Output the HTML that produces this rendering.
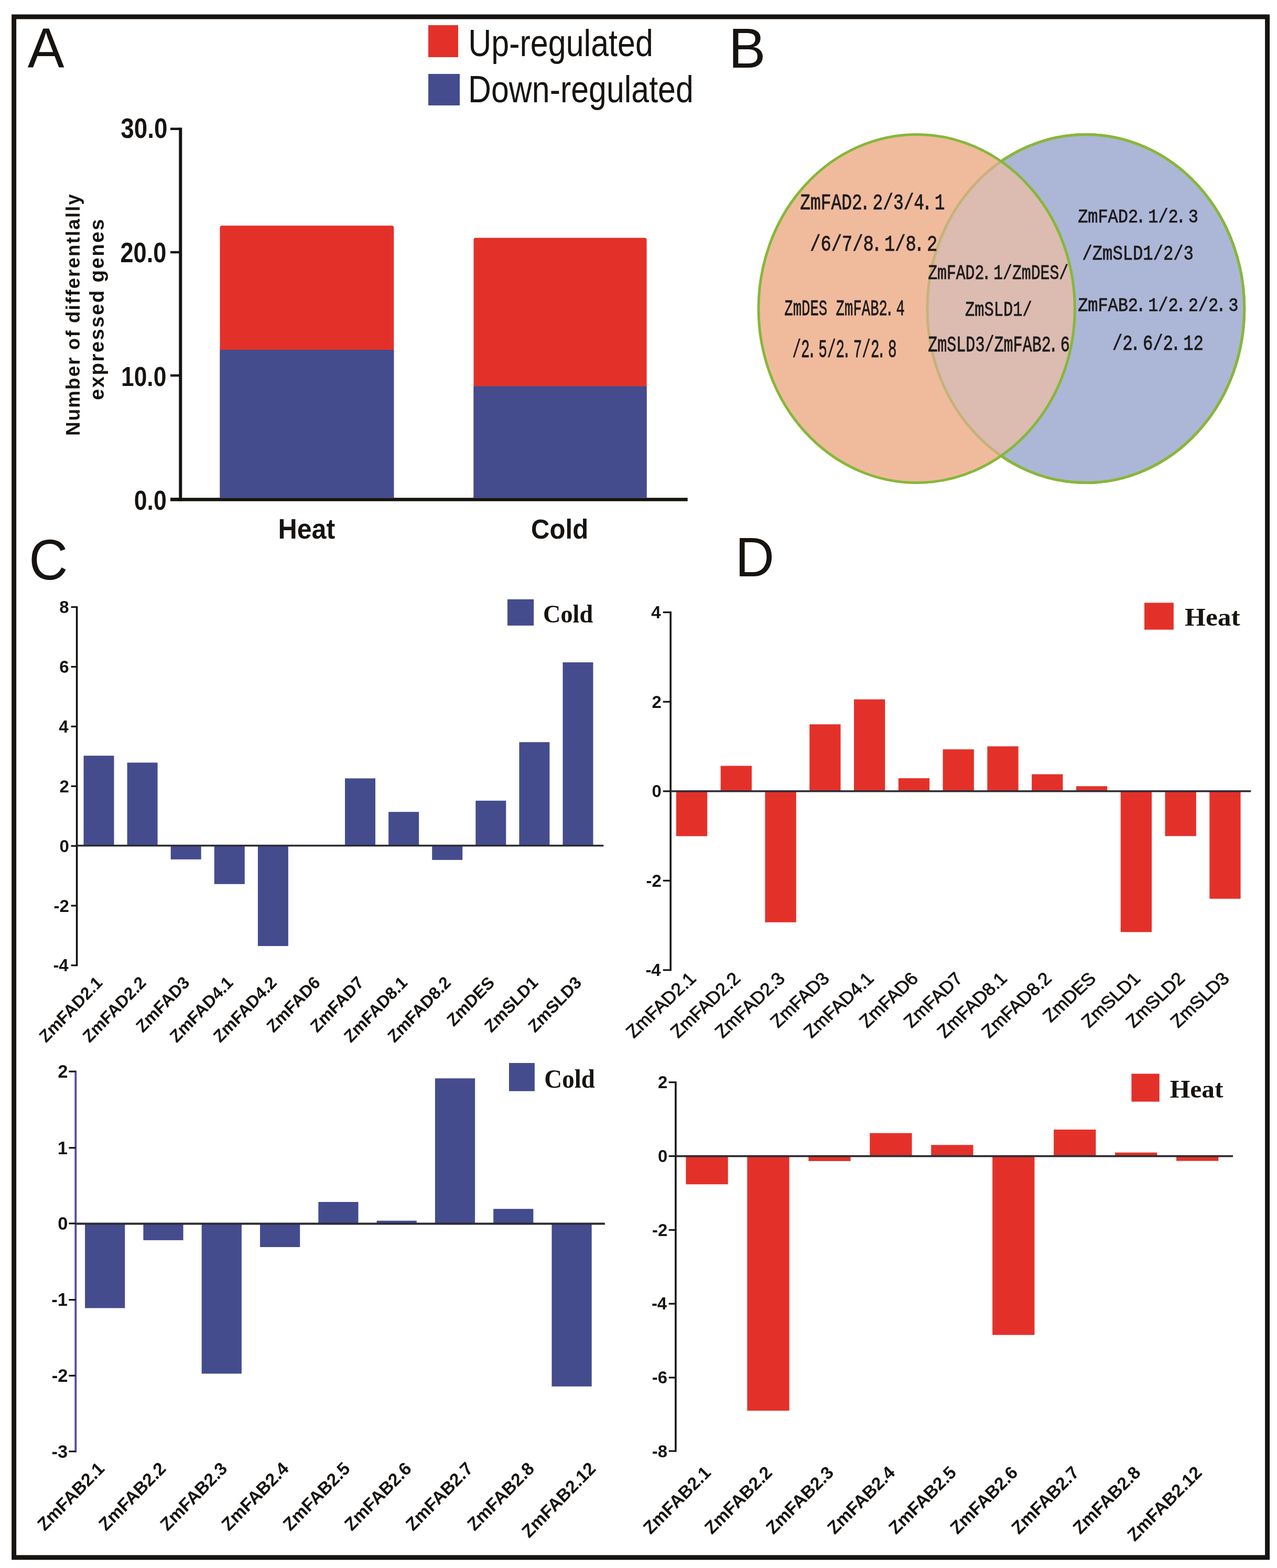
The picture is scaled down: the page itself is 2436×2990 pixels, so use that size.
<!DOCTYPE html><html><head><meta charset="utf-8"><title>Figure</title><style>html,body{margin:0;padding:0;background:#fff;}svg{display:block;}</style></head><body>
<svg width="2436" height="2990" viewBox="0 0 2436 2990">
<rect x="0" y="0" width="2436" height="2990" fill="#fff"/>
<rect x="26.6" y="32" width="2391.0" height="2937.9" fill="none" stroke="#161310" stroke-width="9"/>
<text transform="translate(52.74,128.70) scale(0.9732,1)" font-family="'Liberation Sans', Arial, sans-serif" font-weight="normal" font-size="107.64" fill="#161310">A</text>
<text transform="translate(1389.65,128.50) scale(0.9938,1)" font-family="'Liberation Sans', Arial, sans-serif" font-weight="normal" font-size="106.76" fill="#161310">B</text>
<text transform="translate(55.17,1104.70) scale(0.9347,1)" font-family="'Liberation Sans', Arial, sans-serif" font-weight="normal" font-size="109.68" fill="#161310">C</text>
<text transform="translate(1402.48,1099.00) scale(0.9701,1)" font-family="'Liberation Sans', Arial, sans-serif" font-weight="normal" font-size="106.47" fill="#161310">D</text>
<rect x="817.00" y="48.00" width="57.00" height="61.00" fill="#E3312A"/>
<rect x="817.00" y="141.00" width="60.00" height="60.00" fill="#444C8E"/>
<text transform="translate(893.27,107.00) scale(0.8407,1)" font-family="'Liberation Sans', Arial, sans-serif" font-weight="normal" font-size="72.55" fill="#161310">Up-regulated</text>
<text transform="translate(892.98,195.00) scale(0.8491,1)" font-family="'Liberation Sans', Arial, sans-serif" font-weight="normal" font-size="71.72" fill="#161310">Down-regulated</text>
<path d="M419.5,949 L419.5,434 Q419.5,430.2 423.5,430.2 L747.3,430.2 Q751.3,430.2 751.3,434 L751.3,949 Z" fill="#E3312A"/>
<rect x="419.50" y="667.00" width="331.80" height="282.00" fill="#444C8E"/>
<path d="M903.5,949 L903.5,457.6 Q903.5,453.6 907.5,453.6 L1229.6,453.6 Q1233.6,453.6 1233.6,457.6 L1233.6,949 Z" fill="#E3312A"/>
<rect x="903.50" y="736.50" width="330.10" height="212.50" fill="#444C8E"/>
<line x1="344.30" y1="243.50" x2="344.30" y2="955.50" stroke="#161310" stroke-width="6" stroke-linecap="butt"/>
<line x1="325.00" y1="245.75" x2="344.00" y2="245.75" stroke="#161310" stroke-width="4.5" stroke-linecap="butt"/>
<line x1="325.00" y1="481.00" x2="344.00" y2="481.00" stroke="#161310" stroke-width="4.5" stroke-linecap="butt"/>
<line x1="325.00" y1="716.00" x2="344.00" y2="716.00" stroke="#161310" stroke-width="4.5" stroke-linecap="butt"/>
<line x1="325.00" y1="951.50" x2="344.00" y2="951.50" stroke="#161310" stroke-width="4.5" stroke-linecap="butt"/>
<line x1="325.00" y1="952.50" x2="1311.70" y2="952.50" stroke="#161310" stroke-width="6.5" stroke-linecap="butt"/>
<text transform="translate(230.22,263.00) scale(0.8637,1)" font-family="'Liberation Sans', Arial, sans-serif" font-weight="bold" font-size="53.05" fill="#161310">30.0</text>
<text transform="translate(229.42,499.50) scale(0.8518,1)" font-family="'Liberation Sans', Arial, sans-serif" font-weight="bold" font-size="53.05" fill="#161310">20.0</text>
<text transform="translate(230.98,735.50) scale(0.8421,1)" font-family="'Liberation Sans', Arial, sans-serif" font-weight="bold" font-size="52.69" fill="#161310">10.0</text>
<text transform="translate(255.71,972.00) scale(0.8652,1)" font-family="'Liberation Sans', Arial, sans-serif" font-weight="bold" font-size="51.61" fill="#161310">0.0</text>
<text transform="translate(530.41,1026.80) scale(0.9253,1)" font-family="'Liberation Sans', Arial, sans-serif" font-weight="bold" font-size="54.25" fill="#161310">Heat</text>
<text transform="translate(1013.03,1026.80) scale(0.9558,1)" font-family="'Liberation Sans', Arial, sans-serif" font-weight="bold" font-size="51.45" fill="#161310">Cold</text>
<text transform="translate(151.60,831.00) rotate(-90) scale(1.0,1)" text-anchor="start" font-family="'Liberation Sans', Arial, sans-serif" font-weight="bold" font-size="36.90" fill="#161310" letter-spacing="2.03">Number of differentlally</text>
<text transform="translate(198.00,763.00) rotate(-90) scale(1.0,1)" text-anchor="start" font-family="'Liberation Sans', Arial, sans-serif" font-weight="bold" font-size="38.50" fill="#161310" letter-spacing="2.34">expressed genes</text>
<defs><clipPath id="clipR"><ellipse cx="2071.2" cy="588.5" rx="302.4" ry="332.0"/></clipPath></defs>
<ellipse cx="2071.25" cy="588.5" rx="302.45" ry="332" fill="#ACB6D7" stroke="#87B73A" stroke-width="5"/>
<ellipse cx="1748.65" cy="588.5" rx="301.65" ry="332" fill="#F0BB9C"/>
<ellipse cx="1748.65" cy="588.5" rx="301.65" ry="332" fill="#DCBBB1" clip-path="url(#clipR)"/>
<ellipse cx="2071.25" cy="588.5" rx="302.45" ry="332" fill="none" stroke="#C6B278" stroke-width="5"/>
<ellipse cx="1748.65" cy="588.5" rx="301.65" ry="332" fill="none" stroke="#87B73A" stroke-width="5"/>
<defs><mask id="outL"><rect x="1300" y="200" width="1136" height="800" fill="#fff"/><ellipse cx="1748.7" cy="588.5" rx="301.6" ry="332.0" fill="#000"/></mask></defs>
<ellipse cx="2071.25" cy="588.5" rx="302.45" ry="332" fill="none" stroke="#87B73A" stroke-width="5" mask="url(#outL)"/>
<text transform="translate(1526.35,399.30) scale(0.7814,1)" font-family="'Liberation Mono', 'WenQuanYi Zen Hei Mono', monospace" font-weight="normal" font-size="42.07" fill="#1c1a1a" stroke="#1c1a1a" stroke-width="0.8">ZmFAD2<tspan dx="-5.76">.</tspan><tspan dx="5.76">2</tspan>/3/4<tspan dx="-5.76">.</tspan><tspan dx="5.76">1</tspan></text>
<text transform="translate(1545.14,478.00) scale(0.8080,1)" font-family="'Liberation Mono', 'WenQuanYi Zen Hei Mono', monospace" font-weight="normal" font-size="41.79" fill="#1c1a1a" stroke="#1c1a1a" stroke-width="0.8">/6/7/8<tspan dx="-5.57">.</tspan><tspan dx="5.57">1</tspan>/8<tspan dx="-5.57">.</tspan><tspan dx="5.57">2</tspan></text>
<text transform="translate(1496.24,601.30) scale(0.6314,1)" font-family="'Liberation Mono', 'WenQuanYi Zen Hei Mono', monospace" font-weight="normal" font-size="43.28" fill="#1c1a1a" stroke="#1c1a1a" stroke-width="0.8">ZmDES ZmFAB2<tspan dx="-7.13">.</tspan><tspan dx="7.13">4</tspan></text>
<text transform="translate(1511.48,681.30) scale(0.5831,1)" font-family="'Liberation Mono', 'WenQuanYi Zen Hei Mono', monospace" font-weight="normal" font-size="47.46" fill="#1c1a1a" stroke="#1c1a1a" stroke-width="0.8">/2<tspan dx="-7.72">.</tspan><tspan dx="7.72">5</tspan>/2<tspan dx="-7.72">.</tspan><tspan dx="7.72">7</tspan>/2<tspan dx="-7.72">.</tspan><tspan dx="7.72">8</tspan></text>
<text transform="translate(1770.16,532.30) scale(0.7677,1)" font-family="'Liberation Mono', 'WenQuanYi Zen Hei Mono', monospace" font-weight="normal" font-size="38.78" fill="#1c1a1a" stroke="#1c1a1a" stroke-width="0.8">ZmFAD2<tspan dx="-5.86">.</tspan><tspan dx="5.86">1</tspan>/ZmDES/</text>
<text transform="translate(1840.93,602.00) scale(0.7847,1)" font-family="'Liberation Mono', 'WenQuanYi Zen Hei Mono', monospace" font-weight="normal" font-size="38.78" fill="#1c1a1a" stroke="#1c1a1a" stroke-width="0.8">ZmSLD1/</text>
<text transform="translate(1770.15,670.30) scale(0.7192,1)" font-family="'Liberation Mono', 'WenQuanYi Zen Hei Mono', monospace" font-weight="normal" font-size="41.83" fill="#1c1a1a" stroke="#1c1a1a" stroke-width="0.8">ZmSLD3/ZmFAB2<tspan dx="-6.26">.</tspan><tspan dx="6.26">6</tspan></text>
<text transform="translate(2056.18,423.70) scale(0.8443,1)" font-family="'Liberation Mono', 'WenQuanYi Zen Hei Mono', monospace" font-weight="normal" font-size="37.79" fill="#1c1a1a" stroke="#1c1a1a" stroke-width="0.8">ZmFAD2<tspan dx="-5.33">.</tspan><tspan dx="5.33">1</tspan>/2<tspan dx="-5.33">.</tspan><tspan dx="5.33">3</tspan></text>
<text transform="translate(2064.43,495.30) scale(0.8209,1)" font-family="'Liberation Mono', 'WenQuanYi Zen Hei Mono', monospace" font-weight="normal" font-size="39.24" fill="#1c1a1a" stroke="#1c1a1a" stroke-width="0.8">/ZmSLD1/2/3</text>
<text transform="translate(2056.18,593.30) scale(0.8629,1)" font-family="'Liberation Mono', 'WenQuanYi Zen Hei Mono', monospace" font-weight="normal" font-size="36.97" fill="#1c1a1a" stroke="#1c1a1a" stroke-width="0.8">ZmFAB2<tspan dx="-5.21">.</tspan><tspan dx="5.21">1</tspan>/2<tspan dx="-5.21">.</tspan><tspan dx="5.21">2</tspan>/2<tspan dx="-5.21">.</tspan><tspan dx="5.21">3</tspan></text>
<text transform="translate(2121.93,667.00) scale(0.7900,1)" font-family="'Liberation Mono', 'WenQuanYi Zen Hei Mono', monospace" font-weight="normal" font-size="40.75" fill="#1c1a1a" stroke="#1c1a1a" stroke-width="0.8">/2<tspan dx="-5.70">.</tspan><tspan dx="5.70">6</tspan>/2<tspan dx="-5.70">.</tspan><tspan dx="5.70">1</tspan>2</text>
<rect x="159.50" y="1441.00" width="58.00" height="171.50" fill="#444C8E"/>
<rect x="242.59" y="1454.20" width="58.00" height="158.30" fill="#444C8E"/>
<rect x="325.68" y="1612.50" width="58.00" height="26.30" fill="#444C8E"/>
<rect x="408.77" y="1612.50" width="58.00" height="73.30" fill="#444C8E"/>
<rect x="491.86" y="1612.50" width="58.00" height="191.50" fill="#444C8E"/>
<rect x="574.95" y="1611.00" width="58.00" height="1.50" fill="#444C8E"/>
<rect x="658.04" y="1484.30" width="58.00" height="128.20" fill="#444C8E"/>
<rect x="741.13" y="1548.20" width="58.00" height="64.30" fill="#444C8E"/>
<rect x="824.22" y="1612.50" width="58.00" height="27.30" fill="#444C8E"/>
<rect x="907.31" y="1526.80" width="58.00" height="85.70" fill="#444C8E"/>
<rect x="990.40" y="1415.20" width="58.00" height="197.30" fill="#444C8E"/>
<rect x="1073.49" y="1263.00" width="58.00" height="349.50" fill="#444C8E"/>
<line x1="146.60" y1="1156.10" x2="146.60" y2="1842.30" stroke="#161310" stroke-width="3.6" stroke-linecap="butt"/>
<line x1="135.50" y1="1157.60" x2="146.60" y2="1157.60" stroke="#161310" stroke-width="3.2" stroke-linecap="butt"/>
<text x="113.17" y="1169.11" font-family="'Liberation Sans', Arial, sans-serif" font-weight="bold" font-size="33" fill="#161310">8</text>
<line x1="135.50" y1="1271.50" x2="146.60" y2="1271.50" stroke="#161310" stroke-width="3.2" stroke-linecap="butt"/>
<text x="113.34" y="1283.01" font-family="'Liberation Sans', Arial, sans-serif" font-weight="bold" font-size="33" fill="#161310">6</text>
<line x1="135.50" y1="1385.30" x2="146.60" y2="1385.30" stroke="#161310" stroke-width="3.2" stroke-linecap="butt"/>
<text x="112.35" y="1396.64" font-family="'Liberation Sans', Arial, sans-serif" font-weight="bold" font-size="33" fill="#161310">4</text>
<line x1="135.50" y1="1499.20" x2="146.60" y2="1499.20" stroke="#161310" stroke-width="3.2" stroke-linecap="butt"/>
<text x="113.42" y="1510.71" font-family="'Liberation Sans', Arial, sans-serif" font-weight="bold" font-size="33" fill="#161310">2</text>
<line x1="135.50" y1="1613.10" x2="146.60" y2="1613.10" stroke="#161310" stroke-width="3.2" stroke-linecap="butt"/>
<text x="113.50" y="1624.61" font-family="'Liberation Sans', Arial, sans-serif" font-weight="bold" font-size="33" fill="#161310">0</text>
<line x1="135.50" y1="1727.00" x2="146.60" y2="1727.00" stroke="#161310" stroke-width="3.2" stroke-linecap="butt"/>
<text x="102.45" y="1738.51" font-family="'Liberation Sans', Arial, sans-serif" font-weight="bold" font-size="33" fill="#161310">-2</text>
<line x1="135.50" y1="1840.80" x2="146.60" y2="1840.80" stroke="#161310" stroke-width="3.2" stroke-linecap="butt"/>
<text x="101.38" y="1852.14" font-family="'Liberation Sans', Arial, sans-serif" font-weight="bold" font-size="33" fill="#161310">-4</text>
<line x1="146.60" y1="1612.50" x2="1151.30" y2="1612.50" stroke="#2b2b33" stroke-width="3.6" stroke-linecap="butt"/>
<text transform="translate(197.28,1875.86) scale(0.9609,1) rotate(-45)" text-anchor="end" font-family="'Liberation Sans', Arial, sans-serif" font-size="32.98" fill="#161310" font-weight="bold">ZmFAD2.1</text>
<text transform="translate(280.37,1875.86) scale(0.9609,1) rotate(-45)" text-anchor="end" font-family="'Liberation Sans', Arial, sans-serif" font-size="32.98" fill="#161310" font-weight="bold">ZmFAD2.2</text>
<text transform="translate(363.46,1875.86) scale(0.9609,1) rotate(-45)" text-anchor="end" font-family="'Liberation Sans', Arial, sans-serif" font-size="32.98" fill="#161310" font-weight="bold">ZmFAD3</text>
<text transform="translate(446.55,1875.86) scale(0.9609,1) rotate(-45)" text-anchor="end" font-family="'Liberation Sans', Arial, sans-serif" font-size="32.98" fill="#161310" font-weight="bold">ZmFAD4.1</text>
<text transform="translate(529.64,1875.86) scale(0.9609,1) rotate(-45)" text-anchor="end" font-family="'Liberation Sans', Arial, sans-serif" font-size="32.98" fill="#161310" font-weight="bold">ZmFAD4.2</text>
<text transform="translate(612.73,1875.86) scale(0.9609,1) rotate(-45)" text-anchor="end" font-family="'Liberation Sans', Arial, sans-serif" font-size="32.98" fill="#161310" font-weight="bold">ZmFAD6</text>
<text transform="translate(695.82,1875.86) scale(0.9609,1) rotate(-45)" text-anchor="end" font-family="'Liberation Sans', Arial, sans-serif" font-size="32.98" fill="#161310" font-weight="bold">ZmFAD7</text>
<text transform="translate(778.91,1875.86) scale(0.9609,1) rotate(-45)" text-anchor="end" font-family="'Liberation Sans', Arial, sans-serif" font-size="32.98" fill="#161310" font-weight="bold">ZmFAD8.1</text>
<text transform="translate(862.00,1875.86) scale(0.9609,1) rotate(-45)" text-anchor="end" font-family="'Liberation Sans', Arial, sans-serif" font-size="32.98" fill="#161310" font-weight="bold">ZmFAD8.2</text>
<text transform="translate(945.09,1875.86) scale(0.9609,1) rotate(-45)" text-anchor="end" font-family="'Liberation Sans', Arial, sans-serif" font-size="32.98" fill="#161310" font-weight="bold">ZmDES</text>
<text transform="translate(1028.18,1875.86) scale(0.9609,1) rotate(-45)" text-anchor="end" font-family="'Liberation Sans', Arial, sans-serif" font-size="32.98" fill="#161310" font-weight="bold">ZmSLD1</text>
<text transform="translate(1111.27,1875.86) scale(0.9609,1) rotate(-45)" text-anchor="end" font-family="'Liberation Sans', Arial, sans-serif" font-size="32.98" fill="#161310" font-weight="bold">ZmSLD3</text>
<rect x="968.00" y="1142.80" width="50.20" height="50.10" fill="#444C8E"/>
<text transform="translate(1036.11,1187.00) scale(0.9586,1)" font-family="'Liberation Serif', 'Times New Roman', serif" font-weight="bold" font-size="48.20" fill="#161310">Cold</text>
<rect x="162.10" y="2333.60" width="76.20" height="160.80" fill="#444C8E"/>
<rect x="273.40" y="2333.60" width="76.20" height="31.30" fill="#444C8E"/>
<rect x="384.70" y="2333.60" width="76.20" height="285.80" fill="#444C8E"/>
<rect x="496.00" y="2333.60" width="76.20" height="44.40" fill="#444C8E"/>
<rect x="607.30" y="2292.00" width="76.20" height="41.60" fill="#444C8E"/>
<rect x="718.60" y="2327.70" width="76.20" height="5.90" fill="#444C8E"/>
<rect x="829.90" y="2056.30" width="76.20" height="277.30" fill="#444C8E"/>
<rect x="941.20" y="2305.20" width="76.20" height="28.40" fill="#444C8E"/>
<rect x="1052.50" y="2333.60" width="76.20" height="310.20" fill="#444C8E"/>
<line x1="144.30" y1="2041.50" x2="144.30" y2="2769.40" stroke="#5A50A0" stroke-width="4" stroke-linecap="butt"/>
<line x1="131.30" y1="2043.20" x2="144.30" y2="2043.20" stroke="#161310" stroke-width="3.2" stroke-linecap="butt"/>
<text x="110.15" y="2055.23" font-family="'Liberation Sans', Arial, sans-serif" font-weight="bold" font-size="34.5" fill="#161310">2</text>
<line x1="131.30" y1="2188.80" x2="144.30" y2="2188.80" stroke="#161310" stroke-width="3.2" stroke-linecap="butt"/>
<text x="109.80" y="2200.66" font-family="'Liberation Sans', Arial, sans-serif" font-weight="bold" font-size="34.5" fill="#161310">1</text>
<line x1="131.30" y1="2333.00" x2="144.30" y2="2333.00" stroke="#161310" stroke-width="3.2" stroke-linecap="butt"/>
<text x="110.23" y="2345.03" font-family="'Liberation Sans', Arial, sans-serif" font-weight="bold" font-size="34.5" fill="#161310">0</text>
<line x1="131.30" y1="2478.60" x2="144.30" y2="2478.60" stroke="#161310" stroke-width="3.2" stroke-linecap="butt"/>
<text x="98.33" y="2490.46" font-family="'Liberation Sans', Arial, sans-serif" font-weight="bold" font-size="34.5" fill="#161310">-1</text>
<line x1="131.30" y1="2623.20" x2="144.30" y2="2623.20" stroke="#161310" stroke-width="3.2" stroke-linecap="butt"/>
<text x="98.67" y="2635.23" font-family="'Liberation Sans', Arial, sans-serif" font-weight="bold" font-size="34.5" fill="#161310">-2</text>
<line x1="131.30" y1="2767.70" x2="144.30" y2="2767.70" stroke="#161310" stroke-width="3.2" stroke-linecap="butt"/>
<text x="98.59" y="2779.73" font-family="'Liberation Sans', Arial, sans-serif" font-weight="bold" font-size="34.5" fill="#161310">-3</text>
<line x1="144.30" y1="2333.60" x2="1153.90" y2="2333.60" stroke="#2b2b33" stroke-width="4" stroke-linecap="butt"/>
<text transform="translate(201.21,2802.67) scale(0.9830,1) rotate(-45)" text-anchor="end" font-family="'Liberation Sans', Arial, sans-serif" font-size="34.15" fill="#161310" font-weight="bold">ZmFAB2.1</text>
<text transform="translate(318.36,2802.67) scale(0.9830,1) rotate(-45)" text-anchor="end" font-family="'Liberation Sans', Arial, sans-serif" font-size="34.15" fill="#161310" font-weight="bold">ZmFAB2.2</text>
<text transform="translate(435.51,2802.67) scale(0.9830,1) rotate(-45)" text-anchor="end" font-family="'Liberation Sans', Arial, sans-serif" font-size="34.15" fill="#161310" font-weight="bold">ZmFAB2.3</text>
<text transform="translate(552.66,2802.67) scale(0.9830,1) rotate(-45)" text-anchor="end" font-family="'Liberation Sans', Arial, sans-serif" font-size="34.15" fill="#161310" font-weight="bold">ZmFAB2.4</text>
<text transform="translate(669.81,2802.67) scale(0.9830,1) rotate(-45)" text-anchor="end" font-family="'Liberation Sans', Arial, sans-serif" font-size="34.15" fill="#161310" font-weight="bold">ZmFAB2.5</text>
<text transform="translate(786.96,2802.67) scale(0.9830,1) rotate(-45)" text-anchor="end" font-family="'Liberation Sans', Arial, sans-serif" font-size="34.15" fill="#161310" font-weight="bold">ZmFAB2.6</text>
<text transform="translate(904.11,2802.67) scale(0.9830,1) rotate(-45)" text-anchor="end" font-family="'Liberation Sans', Arial, sans-serif" font-size="34.15" fill="#161310" font-weight="bold">ZmFAB2.7</text>
<text transform="translate(1021.26,2802.67) scale(0.9830,1) rotate(-45)" text-anchor="end" font-family="'Liberation Sans', Arial, sans-serif" font-size="34.15" fill="#161310" font-weight="bold">ZmFAB2.8</text>
<text transform="translate(1138.41,2802.67) scale(0.9830,1) rotate(-45)" text-anchor="end" font-family="'Liberation Sans', Arial, sans-serif" font-size="34.15" fill="#161310" font-weight="bold">ZmFAB2.12</text>
<rect x="971.00" y="2027.00" width="48.90" height="53.70" fill="#444C8E"/>
<text transform="translate(1038.27,2074.00) scale(0.9443,1)" font-family="'Liberation Serif', 'Times New Roman', serif" font-weight="bold" font-size="49.78" fill="#161310">Cold</text>
<rect x="1289.90" y="1508.80" width="59.30" height="85.70" fill="#E3312A"/>
<rect x="1374.68" y="1460.40" width="59.30" height="48.40" fill="#E3312A"/>
<rect x="1459.46" y="1508.80" width="59.30" height="249.90" fill="#E3312A"/>
<rect x="1544.24" y="1381.20" width="59.30" height="127.60" fill="#E3312A"/>
<rect x="1629.02" y="1333.60" width="59.30" height="175.20" fill="#E3312A"/>
<rect x="1713.80" y="1484.00" width="59.30" height="24.80" fill="#E3312A"/>
<rect x="1798.58" y="1428.90" width="59.30" height="79.90" fill="#E3312A"/>
<rect x="1883.36" y="1423.20" width="59.30" height="85.60" fill="#E3312A"/>
<rect x="1968.14" y="1476.40" width="59.30" height="32.40" fill="#E3312A"/>
<rect x="2052.92" y="1499.20" width="59.30" height="9.60" fill="#E3312A"/>
<rect x="2137.70" y="1508.80" width="59.30" height="268.60" fill="#E3312A"/>
<rect x="2222.48" y="1508.80" width="59.30" height="85.50" fill="#E3312A"/>
<rect x="2307.26" y="1508.80" width="59.30" height="205.00" fill="#E3312A"/>
<line x1="1279.20" y1="1166.10" x2="1279.20" y2="1851.30" stroke="#161310" stroke-width="3.6" stroke-linecap="butt"/>
<line x1="1264.70" y1="1167.60" x2="1279.20" y2="1167.60" stroke="#161310" stroke-width="3.2" stroke-linecap="butt"/>
<text x="1242.35" y="1178.94" font-family="'Liberation Sans', Arial, sans-serif" font-weight="bold" font-size="33" fill="#161310">4</text>
<line x1="1264.70" y1="1338.20" x2="1279.20" y2="1338.20" stroke="#161310" stroke-width="3.2" stroke-linecap="butt"/>
<text x="1243.42" y="1349.71" font-family="'Liberation Sans', Arial, sans-serif" font-weight="bold" font-size="33" fill="#161310">2</text>
<line x1="1264.70" y1="1508.80" x2="1279.20" y2="1508.80" stroke="#161310" stroke-width="3.2" stroke-linecap="butt"/>
<text x="1243.51" y="1520.31" font-family="'Liberation Sans', Arial, sans-serif" font-weight="bold" font-size="33" fill="#161310">0</text>
<line x1="1264.70" y1="1679.30" x2="1279.20" y2="1679.30" stroke="#161310" stroke-width="3.2" stroke-linecap="butt"/>
<text x="1232.45" y="1690.81" font-family="'Liberation Sans', Arial, sans-serif" font-weight="bold" font-size="33" fill="#161310">-2</text>
<line x1="1264.70" y1="1849.80" x2="1279.20" y2="1849.80" stroke="#161310" stroke-width="3.2" stroke-linecap="butt"/>
<text x="1231.38" y="1861.14" font-family="'Liberation Sans', Arial, sans-serif" font-weight="bold" font-size="33" fill="#161310">-4</text>
<line x1="1279.20" y1="1508.80" x2="2386.30" y2="1508.80" stroke="#2b2b33" stroke-width="3.6" stroke-linecap="butt"/>
<text transform="translate(1329.71,1868.03) scale(1.0704,1) rotate(-45)" text-anchor="end" font-family="'Liberation Sans', Arial, sans-serif" font-size="33.40" fill="#161310" stroke="#161310" stroke-width="0.9">ZmFAD2.1</text>
<text transform="translate(1414.49,1868.03) scale(1.0704,1) rotate(-45)" text-anchor="end" font-family="'Liberation Sans', Arial, sans-serif" font-size="33.40" fill="#161310" stroke="#161310" stroke-width="0.9">ZmFAD2.2</text>
<text transform="translate(1499.27,1868.03) scale(1.0704,1) rotate(-45)" text-anchor="end" font-family="'Liberation Sans', Arial, sans-serif" font-size="33.40" fill="#161310" stroke="#161310" stroke-width="0.9">ZmFAD2.3</text>
<text transform="translate(1584.05,1868.03) scale(1.0704,1) rotate(-45)" text-anchor="end" font-family="'Liberation Sans', Arial, sans-serif" font-size="33.40" fill="#161310" stroke="#161310" stroke-width="0.9">ZmFAD3</text>
<text transform="translate(1668.83,1868.03) scale(1.0704,1) rotate(-45)" text-anchor="end" font-family="'Liberation Sans', Arial, sans-serif" font-size="33.40" fill="#161310" stroke="#161310" stroke-width="0.9">ZmFAD4.1</text>
<text transform="translate(1753.61,1868.03) scale(1.0704,1) rotate(-45)" text-anchor="end" font-family="'Liberation Sans', Arial, sans-serif" font-size="33.40" fill="#161310" stroke="#161310" stroke-width="0.9">ZmFAD6</text>
<text transform="translate(1838.39,1868.03) scale(1.0704,1) rotate(-45)" text-anchor="end" font-family="'Liberation Sans', Arial, sans-serif" font-size="33.40" fill="#161310" stroke="#161310" stroke-width="0.9">ZmFAD7</text>
<text transform="translate(1923.17,1868.03) scale(1.0704,1) rotate(-45)" text-anchor="end" font-family="'Liberation Sans', Arial, sans-serif" font-size="33.40" fill="#161310" stroke="#161310" stroke-width="0.9">ZmFAD8.1</text>
<text transform="translate(2007.95,1868.03) scale(1.0704,1) rotate(-45)" text-anchor="end" font-family="'Liberation Sans', Arial, sans-serif" font-size="33.40" fill="#161310" stroke="#161310" stroke-width="0.9">ZmFAD8.2</text>
<text transform="translate(2092.73,1868.03) scale(1.0704,1) rotate(-45)" text-anchor="end" font-family="'Liberation Sans', Arial, sans-serif" font-size="33.40" fill="#161310" stroke="#161310" stroke-width="0.9">ZmDES</text>
<text transform="translate(2177.51,1868.03) scale(1.0704,1) rotate(-45)" text-anchor="end" font-family="'Liberation Sans', Arial, sans-serif" font-size="33.40" fill="#161310" stroke="#161310" stroke-width="0.9">ZmSLD1</text>
<text transform="translate(2262.29,1868.03) scale(1.0704,1) rotate(-45)" text-anchor="end" font-family="'Liberation Sans', Arial, sans-serif" font-size="33.40" fill="#161310" stroke="#161310" stroke-width="0.9">ZmSLD2</text>
<text transform="translate(2347.07,1868.03) scale(1.0704,1) rotate(-45)" text-anchor="end" font-family="'Liberation Sans', Arial, sans-serif" font-size="33.40" fill="#161310" stroke="#161310" stroke-width="0.9">ZmSLD3</text>
<rect x="2183.00" y="1149.40" width="55.80" height="51.30" fill="#E3312A"/>
<text transform="translate(2260.00,1193.10) scale(1.0413,1)" font-family="'Liberation Serif', 'Times New Roman', serif" font-weight="bold" font-size="49.31" fill="#161310">Heat</text>
<rect x="1308.40" y="2204.60" width="80.30" height="53.70" fill="#E3312A"/>
<rect x="1425.35" y="2204.60" width="80.30" height="485.40" fill="#E3312A"/>
<rect x="1542.30" y="2204.60" width="80.30" height="9.40" fill="#E3312A"/>
<rect x="1659.25" y="2160.70" width="80.30" height="43.90" fill="#E3312A"/>
<rect x="1776.20" y="2183.30" width="80.30" height="21.30" fill="#E3312A"/>
<rect x="1893.15" y="2204.60" width="80.30" height="341.00" fill="#E3312A"/>
<rect x="2010.10" y="2154.00" width="80.30" height="50.60" fill="#E3312A"/>
<rect x="2127.05" y="2197.70" width="80.30" height="6.90" fill="#E3312A"/>
<rect x="2244.00" y="2204.60" width="80.30" height="9.10" fill="#E3312A"/>
<line x1="1288.90" y1="2062.30" x2="1288.90" y2="2768.50" stroke="#161310" stroke-width="3.6" stroke-linecap="butt"/>
<line x1="1275.70" y1="2063.80" x2="1288.90" y2="2063.80" stroke="#161310" stroke-width="3.2" stroke-linecap="butt"/>
<text x="1254.92" y="2075.31" font-family="'Liberation Sans', Arial, sans-serif" font-weight="bold" font-size="33" fill="#161310">2</text>
<line x1="1275.70" y1="2204.60" x2="1288.90" y2="2204.60" stroke="#161310" stroke-width="3.2" stroke-linecap="butt"/>
<text x="1255.01" y="2216.11" font-family="'Liberation Sans', Arial, sans-serif" font-weight="bold" font-size="33" fill="#161310">0</text>
<line x1="1275.70" y1="2345.40" x2="1288.90" y2="2345.40" stroke="#161310" stroke-width="3.2" stroke-linecap="butt"/>
<text x="1243.95" y="2356.91" font-family="'Liberation Sans', Arial, sans-serif" font-weight="bold" font-size="33" fill="#161310">-2</text>
<line x1="1275.70" y1="2486.10" x2="1288.90" y2="2486.10" stroke="#161310" stroke-width="3.2" stroke-linecap="butt"/>
<text x="1242.88" y="2497.44" font-family="'Liberation Sans', Arial, sans-serif" font-weight="bold" font-size="33" fill="#161310">-4</text>
<line x1="1275.70" y1="2626.90" x2="1288.90" y2="2626.90" stroke="#161310" stroke-width="3.2" stroke-linecap="butt"/>
<text x="1243.87" y="2638.41" font-family="'Liberation Sans', Arial, sans-serif" font-weight="bold" font-size="33" fill="#161310">-6</text>
<line x1="1275.70" y1="2767.00" x2="1288.90" y2="2767.00" stroke="#161310" stroke-width="3.2" stroke-linecap="butt"/>
<text x="1243.70" y="2778.51" font-family="'Liberation Sans', Arial, sans-serif" font-weight="bold" font-size="33" fill="#161310">-8</text>
<line x1="1288.90" y1="2204.60" x2="2352.00" y2="2204.60" stroke="#2b2b33" stroke-width="3.6" stroke-linecap="butt"/>
<text transform="translate(1357.99,2810.24) scale(0.9997,1) rotate(-45)" text-anchor="end" font-family="'Liberation Sans', Arial, sans-serif" font-size="33.87" fill="#161310" font-weight="bold">ZmFAB2.1</text>
<text transform="translate(1475.09,2810.24) scale(0.9997,1) rotate(-45)" text-anchor="end" font-family="'Liberation Sans', Arial, sans-serif" font-size="33.87" fill="#161310" font-weight="bold">ZmFAB2.2</text>
<text transform="translate(1592.19,2810.24) scale(0.9997,1) rotate(-45)" text-anchor="end" font-family="'Liberation Sans', Arial, sans-serif" font-size="33.87" fill="#161310" font-weight="bold">ZmFAB2.3</text>
<text transform="translate(1709.29,2810.24) scale(0.9997,1) rotate(-45)" text-anchor="end" font-family="'Liberation Sans', Arial, sans-serif" font-size="33.87" fill="#161310" font-weight="bold">ZmFAB2.4</text>
<text transform="translate(1826.39,2810.24) scale(0.9997,1) rotate(-45)" text-anchor="end" font-family="'Liberation Sans', Arial, sans-serif" font-size="33.87" fill="#161310" font-weight="bold">ZmFAB2.5</text>
<text transform="translate(1943.49,2810.24) scale(0.9997,1) rotate(-45)" text-anchor="end" font-family="'Liberation Sans', Arial, sans-serif" font-size="33.87" fill="#161310" font-weight="bold">ZmFAB2.6</text>
<text transform="translate(2060.59,2810.24) scale(0.9997,1) rotate(-45)" text-anchor="end" font-family="'Liberation Sans', Arial, sans-serif" font-size="33.87" fill="#161310" font-weight="bold">ZmFAB2.7</text>
<text transform="translate(2177.69,2810.24) scale(0.9997,1) rotate(-45)" text-anchor="end" font-family="'Liberation Sans', Arial, sans-serif" font-size="33.87" fill="#161310" font-weight="bold">ZmFAB2.8</text>
<text transform="translate(2294.79,2810.24) scale(0.9997,1) rotate(-45)" text-anchor="end" font-family="'Liberation Sans', Arial, sans-serif" font-size="33.87" fill="#161310" font-weight="bold">ZmFAB2.12</text>
<rect x="2158.40" y="2047.50" width="53.30" height="53.20" fill="#E3312A"/>
<text transform="translate(2231.73,2093.10) scale(1.0035,1)" font-family="'Liberation Serif', 'Times New Roman', serif" font-weight="bold" font-size="49.31" fill="#161310">Heat</text>
</svg></body></html>
